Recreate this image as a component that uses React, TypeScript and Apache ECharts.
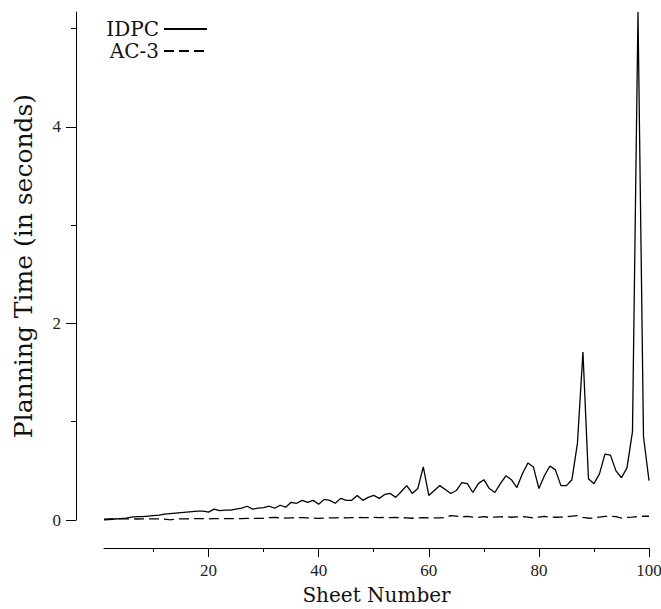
import React, { useEffect, useRef } from "react";
import * as echarts from "echarts";

const seriesNames = ["IDPC", "AC-3"];

// Planning time (seconds) for sheets 1..100
const idpcTimes = [
  0.0, 0.005, 0.01, 0.015, 0.02, 0.03, 0.035, 0.035, 0.04, 0.045,
  0.05, 0.06, 0.065, 0.07, 0.075, 0.08, 0.085, 0.09, 0.09, 0.08,
  0.11, 0.095, 0.1, 0.1, 0.11, 0.12, 0.14, 0.11, 0.12, 0.125,
  0.14, 0.12, 0.15, 0.13, 0.18, 0.17, 0.2, 0.18, 0.2, 0.16,
  0.21, 0.2, 0.17, 0.22, 0.2, 0.2, 0.25, 0.2, 0.23, 0.25,
  0.22, 0.26, 0.27, 0.23, 0.29, 0.35, 0.27, 0.32, 0.54, 0.25,
  0.3, 0.35, 0.31, 0.27, 0.3, 0.38, 0.37, 0.28, 0.37, 0.41,
  0.32, 0.28, 0.37, 0.45, 0.41, 0.33, 0.47, 0.58, 0.54, 0.32,
  0.45, 0.55, 0.51, 0.35, 0.35, 0.41, 0.78, 1.71, 0.42, 0.37,
  0.47, 0.67, 0.66, 0.5, 0.43, 0.53, 0.9, 5.17, 0.85, 0.4,
];

const ac3Times = [
  0.008, 0.01, 0.01, 0.012, 0.012, 0.012, 0.01, 0.012, 0.012, 0.012,
  0.012, 0.008, 0.002, 0.008, 0.012, 0.012, 0.014, 0.014, 0.014, 0.012,
  0.014, 0.014, 0.014, 0.015, 0.015, 0.015, 0.016, 0.016, 0.016, 0.018,
  0.024, 0.026, 0.022, 0.02, 0.022, 0.024, 0.024, 0.022, 0.02, 0.016,
  0.02, 0.022, 0.022, 0.024, 0.022, 0.024, 0.026, 0.024, 0.024, 0.026,
  0.024, 0.026, 0.024, 0.026, 0.024, 0.022, 0.018, 0.022, 0.024, 0.022,
  0.022, 0.022, 0.024, 0.045, 0.04, 0.032, 0.036, 0.03, 0.026, 0.034,
  0.026, 0.03, 0.032, 0.034, 0.028, 0.032, 0.036, 0.03, 0.02, 0.03,
  0.036, 0.03, 0.028, 0.03, 0.032, 0.04, 0.044, 0.026, 0.018, 0.02,
  0.03, 0.036, 0.038, 0.034, 0.02, 0.026, 0.03, 0.036, 0.038, 0.038,
];

const xMajorTicks = [20, 40, 60, 80, 100];
const xMinorTicks = [10, 30, 50, 70, 90];
const yMajorTicks = [0, 2, 4];
const yMinorTicks = [1, 3, 5];

const TICK_FONT = "'Liberation Serif', serif";
const TITLE_FONT = "'DejaVu Serif', 'Liberation Serif', serif";

export default function App() {
  const ref = useRef<HTMLDivElement>(null);

  useEffect(() => {
    document.body.style.margin = "0";
    if (!ref.current) return;
    const chart = echarts.init(ref.current, null, { renderer: "svg" });

    const toPairs = (vals: number[]) => vals.map((v, i) => [i + 1, v]);
    const axisCommon = {
      type: "value" as const,
      splitLine: { show: false },
    };

    chart.setOption({
      animation: false,
      backgroundColor: "#ffffff",
      grid: {
        left: 104,
        right: 12,
        top: 12,
        bottom: 89,
        containLabel: false,
        outerBoundsMode: "none",
      },
      legend: {
        orient: "vertical",
        right: 448,
        top: 14,
        align: "right",
        itemWidth: 43,
        itemHeight: 14,
        itemGap: 2,
        itemStyle: { color: "rgba(0,0,0,0)", borderWidth: 0, opacity: 0 },
        textStyle: { fontSize: 20, fontFamily: TITLE_FONT, color: "#111" },
        data: seriesNames,
      },
      xAxis: [
        {
          ...axisCommon,
          min: 1,
          max: 100,
          position: "bottom",
          offset: 28,
          axisLine: { show: true, onZero: false, lineStyle: { color: "#000", width: 1 } },
          axisTick: { show: true, length: 9, customValues: xMajorTicks, lineStyle: { color: "#000" } },
          axisLabel: { customValues: xMajorTicks, fontSize: 17, fontFamily: TICK_FONT, color: "#222", margin: 14 },
          name: "Sheet Number",
          nameLocation: "middle",
          nameGap: 37,
          nameTextStyle: { fontSize: 20, fontFamily: TITLE_FONT, color: "#111" },
        },
        {
          ...axisCommon,
          min: 1,
          max: 100,
          position: "bottom",
          offset: 28,
          axisLine: { show: false, onZero: false },
          axisTick: { show: true, length: 4, customValues: xMinorTicks, lineStyle: { color: "#000" } },
          axisLabel: { show: false },
        },
      ],
      yAxis: [
        {
          ...axisCommon,
          min: 0,
          max: 5.17,
          position: "left",
          offset: 28,
          axisLine: { show: true, onZero: false, lineStyle: { color: "#000", width: 1 } },
          axisTick: { show: true, length: 10, customValues: yMajorTicks, lineStyle: { color: "#000" } },
          axisLabel: { customValues: yMajorTicks, fontSize: 17, fontFamily: TICK_FONT, color: "#222", margin: 15 },
          name: "Planning Time (in seconds)",
          nameLocation: "middle",
          nameRotate: 90,
          nameGap: 40,
          nameTextStyle: { fontSize: 25, fontFamily: TITLE_FONT, color: "#111" },
        },
        {
          ...axisCommon,
          min: 0,
          max: 5.17,
          position: "left",
          offset: 28,
          axisLine: { show: false, onZero: false },
          axisTick: { show: true, length: 5, customValues: yMinorTicks, lineStyle: { color: "#000" } },
          axisLabel: { show: false },
        },
      ],
      series: [
        {
          name: seriesNames[0],
          type: "line",
          xAxisIndex: 0,
          yAxisIndex: 0,
          symbol: "none",
          showSymbol: false,
          data: toPairs(idpcTimes),
          lineStyle: { color: "#000", width: 1.3, type: "solid" },
          itemStyle: { color: "#000" },
        },
        {
          name: seriesNames[1],
          type: "line",
          xAxisIndex: 0,
          yAxisIndex: 0,
          symbol: "none",
          showSymbol: false,
          data: toPairs(ac3Times),
          lineStyle: { color: "#000", width: 1.3, type: [10, 5] },
          itemStyle: { color: "#000" },
        },
      ],
    });

    return () => chart.dispose();
  }, []);

  return <div ref={ref} style={{ width: 661, height: 609 }} />;
}
